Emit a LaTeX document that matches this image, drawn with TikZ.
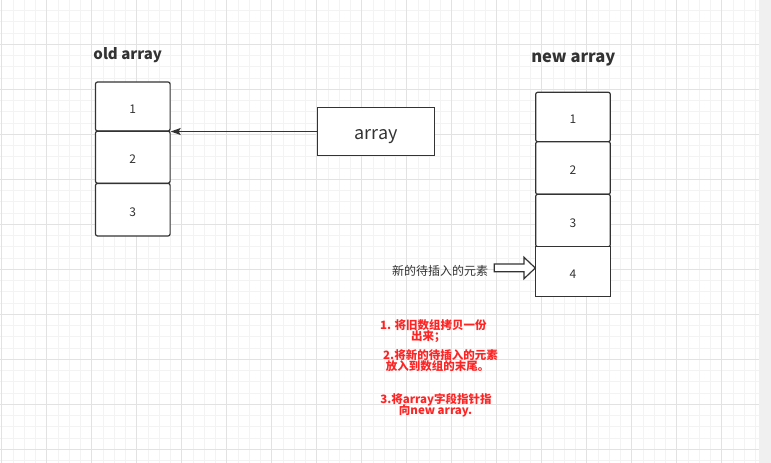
\documentclass[tikz,border=0pt]{standalone}
\usepackage{fontspec}
\setmainfont{Noto Sans CJK SC}
\usetikzlibrary{arrows.meta}
\definecolor{minorgrid}{HTML}{F3F3F3}
\definecolor{majorgrid}{HTML}{E2E2E2}
\definecolor{strip}{HTML}{F0F0F0}
\definecolor{ink}{HTML}{333333}
\definecolor{redtext}{HTML}{FF2424}
\tikzset{
  minorline/.style={draw=minorgrid, line width=0.8pt},
  majorline/.style={draw=majorgrid, line width=0.9pt},
  cell/.style={draw=ink, line width=1.2pt, fill=white, rounded corners=2pt,
    minimum width=74.6pt, inner sep=0pt, font=\fontsize{12}{14}\selectfont, text=ink,
    text height=1.33em, text depth=0pt},
  sqcell/.style={cell, rounded corners=0pt},
  title/.style={font=\fontsize{15}{18}\selectfont\bfseries, text=ink},
  note/.style={font=\fontsize{11.5}{13}\selectfont\bfseries, text=redtext},
  ptr/.style={draw=ink, line width=1.2pt, -{Stealth[length=10pt,width=7pt,inset=2pt]}},
}
\begin{document}
\begin{tikzpicture}[x=1pt,y=-1pt]
\useasboundingbox (0,0) rectangle (771,463);
\fill[white] (0,0) rectangle (759,463);
\fill[strip] (759,0) rectangle (771,463);
\foreach \i in {0,...,67} \draw[minorline] ({1.7+11.25*\i},0) -- ({1.7+11.25*\i},463);
\foreach \i in {0,...,41} \draw[minorline] (0,{-0.7+11.25*\i}) -- (759,{-0.7+11.25*\i});
\foreach \i in {0,...,16} \draw[majorline] ({1.7+45*\i},0) -- ({1.7+45*\i},463);
\foreach \i in {1,...,10} \draw[majorline] (0,{-0.7+45*\i}) -- (759,{-0.7+45*\i});

% old array
\node[title] (oldt) at (127.7,55) {old array};
\node[cell, minimum height=49pt] (o1) at (132.8,106.5) {1};
\node[cell, minimum height=52pt] (o2) at (132.8,157.2) {2};
\node[cell, minimum height=52.6pt] (o3) at (132.8,209.7) {3};

% array pointer
\node[draw=ink, line width=1.2pt, fill=white, minimum width=117.4pt, minimum height=48.4pt,
  inner sep=0pt, font=\fontsize{18}{20}\selectfont, text=ink,
  text height=1.7em, text depth=0.2em] (arr) at (376,131.5) {array};
\draw[ptr] (arr.west) -- (o2.north east |- arr.west);

% new array
\node[title, font=\fontsize{16.5}{19}\selectfont\bfseries] (newt) at (573.3,59.5) {new array};
\node[cell, minimum height=49.4pt] (n1) at (573,117) {1};
\node[cell, minimum height=52.6pt] (n2) at (573,168) {2};
\node[cell, minimum height=52.4pt] (n3) at (573,220.5) {3};
\node[sqcell, minimum height=50pt] (n4) at (573,271.7) {4};

% block arrow
\draw[draw=ink, line width=1.2pt, fill=white, line join=miter]
  (494.3,264) -- (524,264) -- (524,257.3) -- (535.3,268) -- (524,278.7) -- (524,271.7) -- (494.3,271.7) -- cycle;
\node[anchor=east, inner sep=0pt, font=\fontsize{12}{14}\selectfont, text=ink] (lab) at (488.3,271) {新的待插入的元素};

% notes
\node[note] (s1a) at (433.3,325) {1. 将旧数组拷贝一份};
\node[note] (s1b) at (428.3,336.5) {出来；};
\node[note] (s2a) at (440.5,355) {2.将新的待插入的元素};
\node[note] (s2b) at (437.5,366) {放入到数组的末尾。};
\node[note] (s3a) at (436,399.3) {3.将array字段指针指};
\node[note] (s3b) at (435.5,410.5) {向new array.};
\end{tikzpicture}
\end{document}
